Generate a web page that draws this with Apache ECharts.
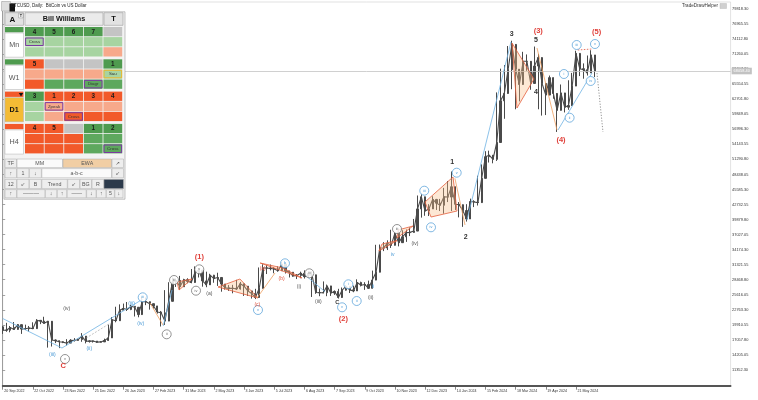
<!DOCTYPE html>
<html><head><meta charset="utf-8">
<script src="https://cdn.jsdelivr.net/npm/echarts@6/dist/echarts.min.js"></script>
<style>html,body{margin:0;padding:0;background:#fff}#c{width:758px;height:400px}</style>
</head><body><div id="c"></div>
<script>
// ---------------- DATA ----------------
const tickLabels = ['20 Sep 2022','22 Oct 2022','23 Nov 2022','25 Dec 2022','26 Jan 2023','27 Feb 2023','31 Mar 2023','2 May 2023','3 Jun 2023','5 Jul 2023','6 Aug 2023','7 Sep 2023','9 Oct 2023','10 Nov 2023','12 Dec 2023','14 Jan 2024','15 Feb 2024','18 Mar 2024','19 Apr 2024','21 May 2024'];
const priceTicks = [79818.30,76965.55,74112.80,71260.05,68407.30,65554.55,62701.80,59849.05,56996.30,54143.55,51290.80,48438.05,45585.30,42732.55,39879.80,37027.05,34174.30,31321.55,28468.80,25616.05,22763.30,19910.55,17057.80,14205.05,11352.30];
const firstOpen = 19540;
// one value per 4 days, starting 20 Sep 2022
const closes = [18900,18900,19400,19050,19950,19120,19180,19330,19200,20770,20630,20200,20600,17050,16900,16700,16600,16450,16980,16960,
17130,17780,16800,16830,16840,16630,16680,16950,17440,20880,20700,22700,23030,22830,23430,23250,21860,24330,24300,23930,
23500,22360,22200,20630,24380,28040,28330,27140,28480,28170,27950,29900,30300,28250,27510,29330,28690,28900,27660,26930,
26830,26850,26720,27700,27250,26350,25850,25100,26840,30700,30700,30590,30510,30170,31450,30150,29900,29180,29290,29700,
29050,29420,29400,26050,26010,26010,27300,25950,26250,25100,26500,27200,26550,26350,27950,27420,27580,26850,28400,29900,
34500,34500,35400,35000,37300,35500,36600,37400,37450,37700,41900,44200,41500,41900,43700,43000,42600,44200,44150,46100,
42800,42700,41600,40000,43300,43200,43100,47700,51800,52100,51300,54500,62400,63800,68300,73100,68400,65500,69900,69900,
65700,69000,70600,65700,63500,66800,63800,60600,63900,61200,61500,65200,71400,68500,68300,67700,71100,68058];
const lows = [18200,18600,18500,18950,19300,18200,18950,18650,19150,20000,20050,20150,15600,15800,16450,15500,16450,16000,16800,16750,
16900,16700,16400,16550,16550,16500,16600,16800,17150,20600,20400,22300,22700,22550,22700,21500,21350,22050,23650,22800,
23000,22050,19600,19900,24000,26650,27100,26550,27300,27800,27800,29650,28900,27150,27050,27650,27900,27300,26200,26600,
26350,25900,26550,26600,25400,25400,24900,24800,26250,29950,29550,30250,29700,30000,30250,29650,28900,29050,28600,28750,
28700,29250,25200,25800,25350,25900,25350,25400,25600,24900,26200,26400,25950,26100,27000,27200,26550,26750,28000,29600,
33800,33900,34100,34500,36400,34800,35650,35650,36750,37600,39950,40250,40600,40550,42200,41700,41500,41000,43200,41500,
41700,40300,38500,39500,41900,42250,42550,47350,49700,50700,50550,51000,60800,59000,68100,64600,60800,62300,66600,68100,
64500,67400,60800,59600,59700,63800,62800,56500,62500,60200,60700,64900,66300,67100,66600,67200,68500,66900];
const highs = [19700,20300,19700,20450,20050,19500,19950,19700,20400,21000,20800,21450,20650,17650,17150,16800,16800,17200,17200,17400,
17300,18350,16950,16950,16900,16700,16850,17300,19950,21400,23350,23800,23950,24250,23700,23450,22300,25250,25100,24150,
23900,22650,22550,26500,28000,28900,28700,29200,28650,28750,30500,31000,30550,28950,30000,29600,29400,29800,27700,27650,
27450,27500,28450,28050,27450,27100,26300,26750,30800,31400,31250,31350,30850,31000,31800,30400,30100,29650,29550,30000,
30250,29750,30050,26850,26800,28150,27550,26100,26450,26750,27000,27450,26700,27350,28550,28100,28000,28300,30200,35100,
35150,35600,35950,37950,37550,37950,37850,38000,38400,40000,44450,44700,43450,42800,44300,43800,43800,45900,47200,49000,
43550,43200,41800,42800,43850,43550,48200,50350,52850,52950,52000,64000,68500,69200,72800,73800,68900,68200,71700,71200,
69400,72700,71300,66900,65500,67200,65000,63400,65500,63400,66300,67700,71900,70000,69500,71000,72000,70200];
const lastPrice = 68058.40;

// wave annotations: [text, bar index, price]
const redLabels = [['(1)',52.13,32726],['(2)',90.31,21024],['(3)',142.0,75703],['(4)',148.03,54973],['(5)',157.49,75399],['C',16.07,12110]];
const redSmall = [['(a)',68.94,30639],['(b)',73.97,28743],['(c)',67.51,23679]];
const darkLabels = [['1',119.21,50857],['2',122.76,36519],['3',134.96,75020],['4',141.40,64133],['5',141.40,73939]];
const darkSmall = [['C',88.72,24115]];
const greyText = [['(iv)',16.97,23053],['(a)',54.78,25898],['(i)',78.56,27150],['(iii)',83.68,24305],['(ii)',97.57,25139],['(iv)',109.32,35381]];
const greyCircles = [['v',16.52,13437],['ii',43.48,18122],['iii',45.42,28421],['v',52.13,30450],['iv',51.25,26391],['iii',81.29,29691],['iii',104.55,38093]];
const blueCircles = [['iii',37.12,25139],['v',67.69,22731],['b',74.85,31588],['v',89.98,23243],['i',91.65,27605],['ii',93.86,24438],['iii',111.78,45357],['v',120.37,48771],['iv',113.56,38416],['iii',152.19,72991],['v',157.04,73180],['i',148.81,67490],['ii',150.31,59202],['iv',155.90,66163]];
const blueText = [['(iii)',13.15,14196],['(ii)',22.96,15467],['(iii)',34.2,24001],['(iv)',36.59,20208],['ii',98.18,27150],['iv',103.41,33295]];
// segments: [index1, price1, index2, price2]
const blueSegs = [[0,21119,15.72,15524],[15.72,15524,37.2,24817],[42.56,19696,44.89,26524],[80.15,29368,85.45,26202],[123.1,39800,134.77,73560],[147.24,56870,156.25,67680]];
const orangeSegs = [[39.06,24058,42.5,19886],[67.42,25007,72.2,29748],[141.67,72422,146.97,56870],[119.9,47709,122.58,38852]];
const redDotted = [[152.5,72042,156.25,72232]];
const greyDotted = [[157.57,67680,159.16,56490]];
const greyDashed = [[21.3,17041,28.45,20208]];
const triangles = [
  [[135.04,73370],[140.87,66542],[136.36,61042]],
  [[111.97,43214],[119.4,47956],[120.46,41507],[113.56,40366]],
  [[46.22,28041],[50.19,28615],[46.75,26524]],
  [[57.1,27093],[62.9,28611],[67.69,25007]],
  [[68.27,31644],[74.3,30696],[79.36,28802]],
  [[99.77,33920],[104.55,35897],[100.57,35248]],
  [[104.55,36386],[108.8,38662],[104.8,37902]]
];

// ---------------- CHART ----------------
const FONT = 'Liberation Sans, Arial, DejaVu Sans, sans-serif';
const NCAT = 194;
const cats = Array.from({length: NCAT}, (_, i) => String(i));
const candles = closes.map((c, i) => [i === 0 ? firstOpen : closes[i - 1], c, lows[i], highs[i]]);
const showTick = (idx) => idx % 8 === 0 && idx / 8 < tickLabels.length;
const BAR = '#4a4a4a';

function labelSeries(arr, o) {
  return {
    type: 'custom', xAxisIndex: 1, yAxisIndex: 0, z: 12, silent: true,
    data: arr.map(a => [a[1], a[2]]), encode: {x: 0, y: 1},
    renderItem: (params, api) => {
      const p = api.coord([api.value(0), api.value(1)]);
      const t = arr[params.dataIndex][0];
      const ch = [];
      if (o.circle) ch.push({type: 'circle', shape: {cx: p[0], cy: p[1], r: o.r}, style: {fill: 'rgba(255,255,255,0.85)', stroke: o.color, lineWidth: 0.7}});
      ch.push({type: 'text', x: p[0], y: p[1], style: {text: t, fill: o.color, fontSize: o.size, fontWeight: o.bold ? 'bold' : 'normal', fontFamily: FONT, align: 'center', verticalAlign: 'middle', textAlign: 'center', textVerticalAlign: 'middle'}});
      return {type: 'group', children: ch};
    }
  };
}
function segSeries(arr, color, width, dash) {
  return {
    type: 'custom', xAxisIndex: 1, yAxisIndex: 0, z: 8, silent: true,
    data: arr, encode: {x: [0, 2], y: [1, 3]},
    renderItem: (params, api) => {
      const a = api.coord([api.value(0), api.value(1)]);
      const b = api.coord([api.value(2), api.value(3)]);
      return {type: 'line', shape: {x1: a[0], y1: a[1], x2: b[0], y2: b[1]}, style: {stroke: color, lineWidth: width, lineDash: dash || null}};
    }
  };
}
const polySeries = {
  type: 'custom', xAxisIndex: 1, yAxisIndex: 0, z: 6, silent: true,
  data: triangles.map((t, k) => [t[0][0], t[0][1], k]), encode: {x: 0, y: 1},
  renderItem: (params, api) => {
    const pts = triangles[params.dataIndex].map(q => api.coord(q));
    return {type: 'polygon', shape: {points: pts}, style: {fill: 'rgba(248,190,135,0.35)', stroke: '#e4603e', lineWidth: 0.8}};
  }
};

// ---------------- PANEL (graphic overlay) ----------------
const els = [];
function rect(x, y, w, h, fill, stroke, lw) {
  els.push({type: 'rect', z: 100, silent: true, shape: {x, y, width: w, height: h}, style: {fill: fill, stroke: stroke || null, lineWidth: lw || 0.6}});
}
function txt(x, y, t, size, color, bold, align) {
  els.push({type: 'text', z: 101, silent: true, x, y, style: {text: t, fontSize: size, fill: color, fontWeight: bold ? 'bold' : 'normal', fontFamily: FONT, align: align || 'center', verticalAlign: 'middle', textAlign: align || 'center', textVerticalAlign: 'middle'}});
}
const PC = {dg: '#4f9b4f', g: '#5ea85e', lg: '#a7d4a1', gr: '#c4c4c4', or: '#f2592a', sa: '#f7a98b', ye: '#f4bb35'};
const PURPLE = '#7a3aa0', GOLD = '#e8b830';
const blocks = [
  {tf: 'Mn', strip: 'dg', bg: '#ffffff', bold: false, rows: [
    [['dg', '4'], ['dg', '5'], ['dg', '6'], ['dg', '7'], ['gr']],
    [['lg', 'Cross', PURPLE], ['lg'], ['lg'], ['lg'], ['lg']],
    [['lg'], ['lg'], ['lg'], ['lg'], ['sa']]]},
  {tf: 'W1', strip: 'dg', bg: '#ffffff', bold: false, rows: [
    [['or', '5'], ['gr'], ['gr'], ['gr'], ['dg', '1']],
    [['sa'], ['sa'], ['sa'], ['sa'], ['lg', 'Sau', GOLD]],
    [['or'], ['g'], ['g'], ['g', 'Diagr', PURPLE], ['g']]]},
  {tf: 'D1', strip: 'or', bg: PC.ye, bold: true, marker: true, rows: [
    [['dg', '3'], ['or', '1'], ['or', '2'], ['or', '3'], ['or', '4']],
    [['lg'], ['sa', 'Zpeak', PURPLE], ['sa'], ['sa'], ['sa']],
    [['lg'], ['sa'], ['or', 'Cross', PURPLE], ['or'], ['or']]]},
  {tf: 'H4', strip: 'or', bg: '#ffffff', bold: false, rows: [
    [['or', '4'], ['or', '5'], ['gr'], ['dg', '1'], ['dg', '2']],
    [['or'], ['or'], ['or'], ['g'], ['g']],
    [['or'], ['or'], ['or'], ['g'], ['g', 'Cross', PURPLE]]]}
];
// title + icon
txt(11, 6, 'BTCUSD, Daily:  BitCoin vs US Dollar', 4.5, '#222', false, 'left');
rect(1.5, 1.5, 9, 9.5, '#dedede', '#9a9a9a', 0.5);
rect(9.5, 3.5, 5.5, 8.5, '#111');
txt(718, 6, 'TradeDrawHelper', 4.6, '#333', false, 'right');
rect(720, 3.5, 6.5, 5, '#d0d0d0', '#b0b0b0', 0.4);
// panel frame
rect(4, 11.8, 121, 187.4, '#f3f3f3', '#9a9a9a', 0.6);
rect(5, 12.7, 18.5, 12.6, '#e2e2e2', '#a0a0a0');
txt(12.5, 19.3, 'A', 8, '#111', true);
rect(18.6, 13.3, 4.4, 4.6, '#fafafa', '#777', 0.4);
txt(20.8, 15.7, 'T', 3.8, '#111', true);
rect(25, 12.7, 78, 12.6, '#ebebeb', '#a0a0a0');
txt(64, 19.2, 'Bill Williams', 7.2, '#111', true);
rect(104, 12.7, 19, 12.6, '#e2e2e2', '#a0a0a0');
txt(113.5, 19.2, 'T', 7.5, '#111', true);
const blockTops = [27, 59.3, 91.6, 123.9];
blocks.forEach((b, bi) => {
  const t = blockTops[bi];
  rect(5, t, 18.5, 5.3, PC[b.strip]);
  rect(5, t + 6, 18.5, 24.2, b.bg, '#b0b0b0', 0.5);
  txt(14.2, t + 18.4, b.tf, 7.2, b.bold ? '#111' : '#555', b.bold);
  if (b.marker) els.push({type: 'polygon', z: 102, silent: true, shape: {points: [[18.8, t + 1.4], [23.2, t + 1.4], [21, t + 5]]}, style: {fill: '#111'}});
  b.rows.forEach((row, r) => {
    const y = t + r * 10.1;
    row.forEach((cell, k) => {
      const x = 25 + k * 19.6;
      rect(x, y, 18.8, 9.3, PC[cell[0]]);
      if (cell[1] && r === 0) txt(x + 9.4, y + 4.8, cell[1], 6.3, '#1a1a1a', true);
      else if (cell[1]) {
        rect(x + 0.6, y + 0.9, 17.6, 7.5, 'none', cell[2], 1);
        txt(x + 9.4, y + 4.7, cell[1], 4.4, '#333', false);
      }
    });
  });
});
const toolbarRows = [
  {y: 159, h: 8.6, cells: [[5, 11.6, 'TF'], [17, 45.5, 'MM', '#fafafa'], [63, 48.5, 'EWA', '#f1cea4'], [112, 11.5, '↗']]},
  {y: 168.6, h: 9.2, cells: [[5, 11.6, '↑'], [17, 12, '1'], [29.4, 12, '↓'], [41.8, 69.7, 'a-b-c', '#fafafa'], [112, 11.5, '↙']]},
  {y: 179.4, h: 9.2, cells: [[5, 11.6, '12'], [17, 12, '↙'], [29.4, 12, 'B'], [41.8, 25.5, 'Trend'], [67.7, 12, '↙'], [80, 11.6, 'BG'], [92, 11.6, 'R'], [104, 19.5, '', '#2c3a4b']]},
  {y: 189.6, h: 8.2, cells: [[5, 11.6, '↑'], [17, 28, '———'], [45.4, 11.5, '↓'], [57.3, 9.5, '↑'], [67.2, 19, '——'], [86.6, 9.5, '↓'], [96.5, 9.5, '↑'], [106.4, 8, '5'], [114.8, 8.2, '↓']]}
];
toolbarRows.forEach(row => {
  row.cells.forEach(c => {
    rect(c[0], row.y, c[1], row.h, c[3] || '#eeeeee', '#a8a8a8', 0.5);
    if (c[2]) txt(c[0] + c[1] / 2, row.y + row.h / 2 + 0.3, c[2], 5.3, '#555', false);
  });
});

const option = {
  animation: false,
  backgroundColor: '#ffffff',
  grid: {left: 2.7, top: 2, width: 727.9, height: 383.7, show: true, borderColor: '#cfcfcf', borderWidth: 0.6, backgroundColor: '#fff'},
  xAxis: [{
    type: 'category', data: cats, boundaryGap: false,
    axisLine: {lineStyle: {color: '#555', width: 1.8}},
    axisTick: {interval: showTick, length: 4, lineStyle: {color: '#555', width: 0.7}},
    axisLabel: {interval: showTick, formatter: (v, idx) => tickLabels[idx / 8] || '', fontSize: 3.6, color: '#333', fontFamily: FONT, align: 'left', margin: 3.5, padding: [0, 0, 0, 1.5]},
    splitLine: {show: false}
  }, {
    type: 'value', min: 0, max: NCAT - 1, show: false
  }],
  yAxis: {
    type: 'value', position: 'right', min: 8374, max: 81146,
    axisLine: {show: true, lineStyle: {color: '#8a8a8a', width: 0.8}},
    axisTick: {show: true, customValues: priceTicks, length: 2.5, lineStyle: {color: '#666', width: 0.6}},
    axisLabel: {customValues: priceTicks, formatter: v => v.toFixed(2), fontSize: 3.9, color: '#333', fontFamily: FONT, margin: 1.5},
    splitLine: {show: false}
  },
  series: [
    {
      type: 'candlestick', xAxisIndex: 0, yAxisIndex: 0, data: candles, barWidth: 1.7, z: 3,
      itemStyle: {color: BAR, color0: BAR, borderColor: BAR, borderColor0: BAR, borderWidth: 1},
      markLine: {
        symbol: 'none', silent: true, animation: false,
        data: [{yAxis: lastPrice}],
        lineStyle: {color: '#c4c4c4', width: 0.8, type: 'solid'},
        label: {position: 'end', distance: 1, formatter: () => lastPrice.toFixed(2), backgroundColor: '#c2c2c2', color: '#ffffff', fontSize: 3.9, fontFamily: FONT, padding: [1.3, 2]}
      }
    },
    {
      type: 'line', xAxisIndex: 0, yAxisIndex: 0, data: closes, z: 3, symbol: 'none', silent: true,
      lineStyle: {color: BAR, width: 1.1}
    },
    polySeries,
    segSeries(blueSegs, '#6fb2e3', 0.8),
    segSeries(orangeSegs, '#f0a060', 0.8),
    segSeries(redDotted, '#e0503a', 0.8, [1.5, 1.5]),
    segSeries(greyDotted, '#777', 0.8, [1.2, 1.6]),
    segSeries(greyDashed, '#9a9a9a', 0.6, [2, 1.5]),
    labelSeries(greyCircles, {circle: true, r: 4.5, color: '#666', size: 3.8}),
    labelSeries(blueCircles, {circle: true, r: 4.5, color: '#4a9ad6', size: 3.8}),
    labelSeries(greyText, {color: '#555', size: 5}),
    labelSeries(blueText, {color: '#4a9ad6', size: 5}),
    labelSeries(darkSmall, {color: '#333', size: 5.5, bold: true}),
    labelSeries(redSmall, {color: '#e0503a', size: 5}),
    labelSeries(darkLabels, {color: '#333', size: 7, bold: true}),
    labelSeries(redLabels, {color: '#e0403a', size: 7.5, bold: true})
  ],
  graphic: {elements: els}
};
const chart = echarts.init(document.getElementById('c'), null, {renderer: 'canvas'});
chart.setOption(option);
</script>
</body></html>
